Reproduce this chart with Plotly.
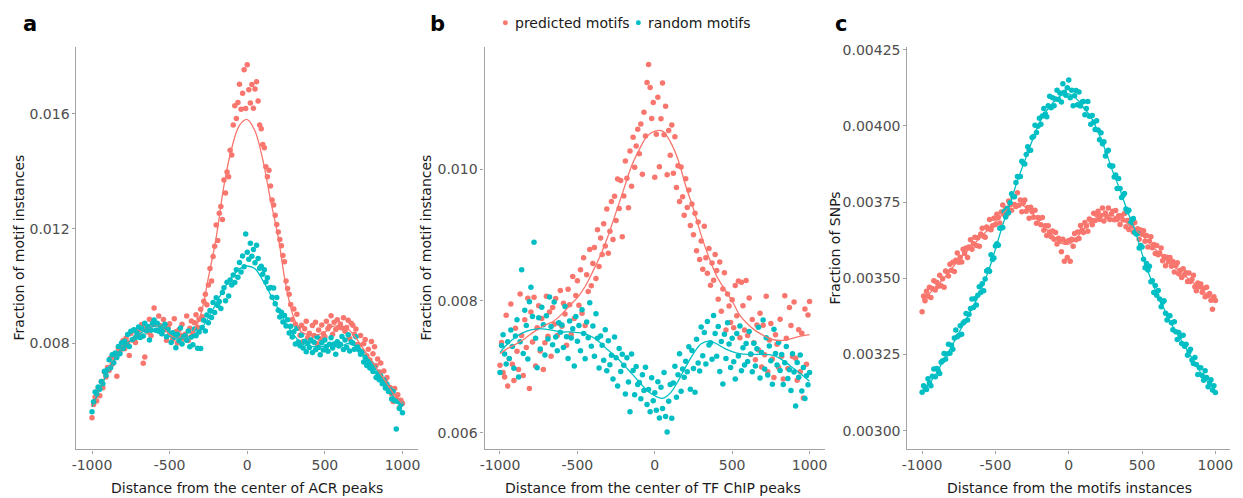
import plotly.graph_objects as go

# Bin centres (bp) and the positions where the smoothed trend is evaluated
positions = list(range(-1000, 1001, 10))
fit_positions = list(range(-1000, 1001, 50))

x_tick_vals = [-1000, -500, 0, 500, 1000]
x_tick_text = ["-1000", "-500", "0", "500", "1000"]

# ---- Panel a: distance from the centre of ACR peaks ----
acr_pred = [
    0.005412, 0.005873, 0.006136, 0.005995, 0.006441, 0.006182, 0.006675, 0.006461, 0.007007, 0.006830,
    0.007167, 0.007065, 0.007494, 0.007279, 0.007626, 0.007503, 0.006858, 0.007828, 0.007719, 0.007940,
    0.008109, 0.007814, 0.008194, 0.008033, 0.007586, 0.008347, 0.008121, 0.008455, 0.008038, 0.008281,
    0.008474, 0.008221, 0.008660, 0.007311, 0.007534, 0.008584, 0.008402, 0.008843, 0.008269, 0.008674,
    0.009237, 0.008692, 0.008466, 0.008955, 0.008627, 0.008347, 0.008839, 0.008477, 0.008114, 0.008563,
    0.008688, 0.008329, 0.008145, 0.008866, 0.008406, 0.008022, 0.008482, 0.008290, 0.008672, 0.008163,
    0.008320, 0.008959, 0.008108, 0.008535, 0.008783, 0.008370, 0.008726, 0.009001, 0.008563, 0.008842,
    0.009197, 0.008932, 0.009475, 0.009716, 0.009354, 0.010038, 0.010610, 0.010180, 0.011027, 0.011391,
    0.012125, 0.011586, 0.012537, 0.012768, 0.012318, 0.013693, 0.013244, 0.013974, 0.013803, 0.014731,
    0.014562, 0.015613, 0.016279, 0.015840, 0.016395, 0.017026, 0.016157, 0.016719, 0.017534, 0.016184,
    0.017706, 0.016839, 0.016372, 0.017022, 0.016189, 0.016865, 0.017114, 0.016445, 0.015608, 0.015476,
    0.014930, 0.014817, 0.014156, 0.013809, 0.014036, 0.013481, 0.012998, 0.012827, 0.012467, 0.012141,
    0.011885, 0.011624, 0.011403, 0.011061, 0.010847, 0.010173, 0.009912, 0.009720, 0.009358, 0.008835,
    0.009204, 0.008670, 0.009023, 0.008542, 0.008287, 0.008633, 0.008064, 0.008515, 0.008778, 0.008207,
    0.008360, 0.008111, 0.008628, 0.008283, 0.008738, 0.007996, 0.008475, 0.008169, 0.008646, 0.008338,
    0.008233, 0.008778, 0.008516, 0.008605, 0.008965, 0.008321, 0.008740, 0.008491, 0.008829, 0.008556,
    0.008682, 0.008537, 0.008894, 0.008426, 0.008559, 0.008814, 0.008175, 0.008703, 0.008632, 0.008319,
    0.008510, 0.007966, 0.007943, 0.008277, 0.007718, 0.007993, 0.008136, 0.007572, 0.007801, 0.007427,
    0.008071, 0.007645, 0.007886, 0.007231, 0.007462, 0.007008, 0.007322, 0.006755, 0.007039, 0.006697,
    0.006821, 0.006406, 0.006467, 0.006240, 0.005980, 0.006434, 0.006089, 0.006217, 0.005764, 0.006028,
    0.005913,
]
acr_rand = [
    0.005623, 0.005969, 0.006312, 0.006244, 0.006482, 0.006407, 0.006674, 0.006603, 0.007038, 0.006891,
    0.007086, 0.007436, 0.007158, 0.007605, 0.007327, 0.007667, 0.007516, 0.007893, 0.007641, 0.008019,
    0.007831, 0.008078, 0.007955, 0.008313, 0.007894, 0.008428, 0.008139, 0.008483, 0.008208, 0.008365,
    0.008573, 0.008214, 0.008533, 0.008260, 0.008702, 0.008446, 0.008589, 0.008124, 0.008462, 0.008709,
    0.008818, 0.008464, 0.008704, 0.008429, 0.008579, 0.008342, 0.008492, 0.008671, 0.008235, 0.008485,
    0.008306, 0.008037, 0.008376, 0.008215, 0.007857, 0.008326, 0.008097, 0.008544, 0.007981, 0.008232,
    0.008268, 0.008111, 0.008440, 0.007884, 0.008223, 0.007956, 0.008507, 0.008275, 0.007834, 0.008398,
    0.007827, 0.008561, 0.008813, 0.008436, 0.008990, 0.008721, 0.009153, 0.008904, 0.009430, 0.009077,
    0.009595, 0.009328, 0.009463, 0.009216, 0.009778, 0.009943, 0.009486, 0.010131, 0.009654, 0.010209,
    0.010038, 0.010388, 0.010125, 0.010566, 0.010307, 0.010819, 0.010492, 0.011045, 0.010673, 0.011814,
    0.011179, 0.010933, 0.011496, 0.011041, 0.011270, 0.010812, 0.011426, 0.010959, 0.010617, 0.010691,
    0.010415, 0.010572, 0.010139, 0.010294, 0.009924, 0.009955, 0.009610, 0.009935, 0.009382, 0.009603,
    0.009158, 0.008920, 0.009087, 0.008747, 0.008974, 0.008608, 0.008832, 0.008363, 0.008601, 0.008229,
    0.008411, 0.007981, 0.008536, 0.008056, 0.007922, 0.008297, 0.007840, 0.008076, 0.007717, 0.008006,
    0.007865, 0.008127, 0.007691, 0.008043, 0.007784, 0.008230, 0.007860, 0.007605, 0.008024, 0.007772,
    0.008119, 0.007893, 0.007734, 0.007977, 0.008202, 0.007841, 0.007985, 0.007628, 0.008061, 0.007912,
    0.007976, 0.008246, 0.007788, 0.008120, 0.007867, 0.008309, 0.007737, 0.008054, 0.008015, 0.007799,
    0.008233, 0.007883, 0.007771, 0.007625, 0.007708, 0.007358, 0.007518, 0.007239, 0.007389, 0.007144,
    0.007292, 0.007022, 0.007162, 0.006814, 0.006980, 0.006735, 0.006874, 0.006603, 0.006729, 0.006455,
    0.006583, 0.006331, 0.006396, 0.006064, 0.006326, 0.006011, 0.005027, 0.005978, 0.005740, 0.005887,
    0.005591,
]
acr_pred_fit = [
    0.0058, 0.0064, 0.0070, 0.0075, 0.0079, 0.0081, 0.0083, 0.0085, 0.0086, 0.0086,
    0.0083, 0.0082, 0.0082, 0.0084, 0.0090, 0.0103, 0.0117, 0.0135, 0.0148, 0.0156,
    0.0158,
    0.0154, 0.0144, 0.0130, 0.0117, 0.0100, 0.0089, 0.0084, 0.0083, 0.0083, 0.0084,
    0.0086, 0.0086, 0.0085, 0.0082, 0.0078, 0.0074, 0.0070, 0.0066, 0.0062, 0.0059,
]
acr_rand_fit = [
    0.0058, 0.0064, 0.0070, 0.0075, 0.0079, 0.0081, 0.0083, 0.0085, 0.0086, 0.0086,
    0.0084, 0.0082, 0.0082, 0.0083, 0.0085, 0.0089, 0.0094, 0.0099, 0.0103, 0.0106,
    0.0107,
    0.0106, 0.0102, 0.0097, 0.0092, 0.0087, 0.0083, 0.0080, 0.0079, 0.0079, 0.0079,
    0.0079, 0.0079, 0.0080, 0.0079, 0.0076, 0.0072, 0.0068, 0.0064, 0.0061, 0.0058,
]

# ---- Panel b: distance from the centre of TF ChIP peaks ----
chip_pred = [
    0.007023, 0.007369, 0.006912, 0.006844, 0.007782, 0.006707, 0.007124, 0.007953, 0.007038, 0.006791,
    0.007586, 0.007236, 0.006958, 0.008105, 0.007477, 0.006867, 0.007716, 0.007293, 0.008041, 0.006669,
    0.007831, 0.007378, 0.008055, 0.007013, 0.007594, 0.007928, 0.007239, 0.007733, 0.006958, 0.007365,
    0.008073, 0.007464, 0.007833, 0.007160, 0.007902, 0.007646, 0.008039, 0.007474, 0.007662, 0.008159,
    0.007618, 0.007964, 0.007804, 0.007329, 0.008179, 0.007942, 0.007492, 0.008371, 0.007735, 0.008085,
    0.008306, 0.007937, 0.008476, 0.007815, 0.008657, 0.007626, 0.008397, 0.008144, 0.008781, 0.008232,
    0.008568, 0.008811, 0.008340, 0.009084, 0.008523, 0.008956, 0.008707, 0.009175, 0.008834, 0.009398,
    0.008727, 0.009061, 0.009513, 0.008936, 0.009590, 0.009221, 0.009853, 0.009404, 0.009830, 0.008977,
    0.009595, 0.010128, 0.009863, 0.009416, 0.010278, 0.009743, 0.010486, 0.010031, 0.010354, 0.010609,
    0.010238, 0.010688, 0.009925, 0.010866, 0.010507, 0.011319, 0.011592, 0.011245, 0.010773, 0.011014,
    0.009879, 0.010533, 0.011096, 0.010041, 0.010770, 0.011312, 0.010526, 0.010959, 0.009917, 0.010591,
    0.010215, 0.010672, 0.009939, 0.010494, 0.009724, 0.010055, 0.009510, 0.010035, 0.009582, 0.009303,
    0.009858, 0.009420, 0.009687, 0.009147, 0.009474, 0.009008, 0.009332, 0.008763, 0.009201, 0.008629,
    0.008911, 0.008481, 0.009136, 0.008656, 0.008422, 0.008797, 0.008240, 0.008576, 0.008317, 0.008706,
    0.008465, 0.008027, 0.008591, 0.007843, 0.008184, 0.008430, 0.007560, 0.008105, 0.007924, 0.007672,
    0.008019, 0.007593, 0.008234, 0.007777, 0.008302, 0.007441, 0.008285, 0.007928, 0.007561, 0.008312,
    0.007476, 0.008046, 0.007188, 0.007720, 0.007367, 0.007109, 0.007637, 0.007254, 0.007815, 0.006999,
    0.007633, 0.007183, 0.008071, 0.006925, 0.007408, 0.007658, 0.007118, 0.006839, 0.007489, 0.007344,
    0.006992, 0.007722, 0.007162, 0.006814, 0.008080, 0.007435, 0.006974, 0.007903, 0.007629, 0.007155,
    0.007983, 0.007131, 0.006796, 0.007564, 0.006926, 0.007511, 0.006527, 0.007878, 0.007040, 0.007787,
    0.007991,
]
chip_rand = [
    0.006912, 0.007323, 0.007486, 0.007195, 0.007041, 0.007382, 0.007125, 0.007561, 0.007307, 0.006980,
    0.007467, 0.007715, 0.006844, 0.007379, 0.008476, 0.007203, 0.007858, 0.007628, 0.007119, 0.007990,
    0.008209, 0.007764, 0.008894, 0.007433, 0.006986, 0.007747, 0.007271, 0.007905, 0.007638, 0.007181,
    0.007774, 0.007421, 0.008060, 0.007611, 0.007334, 0.007984, 0.007452, 0.007243, 0.007669, 0.007524,
    0.007637, 0.007292, 0.007916, 0.007455, 0.007127, 0.007697, 0.007439, 0.007577, 0.007014, 0.007763,
    0.007388, 0.007629, 0.007245, 0.007866, 0.007506, 0.007122, 0.007682, 0.007440, 0.007972, 0.007313,
    0.007620, 0.007159, 0.007808, 0.007435, 0.006983, 0.007470, 0.007326, 0.007101, 0.007563, 0.006942,
    0.007397, 0.007032, 0.007175, 0.006816, 0.007454, 0.007138, 0.006710, 0.007280, 0.006927, 0.007191,
    0.007025, 0.006586, 0.007137, 0.006768, 0.006318, 0.007193, 0.006944, 0.006574, 0.007003, 0.006731,
    0.006762, 0.006513, 0.006879, 0.006640, 0.006995, 0.006426, 0.006657, 0.006319, 0.006834, 0.006484,
    0.006606, 0.006339, 0.006772, 0.006222, 0.006689, 0.006365, 0.006914, 0.006245, 0.006008, 0.006476,
    0.006730, 0.006217, 0.006756, 0.007009, 0.006536, 0.006881, 0.007198, 0.006627, 0.006967, 0.006841,
    0.007085, 0.006924, 0.007303, 0.006661, 0.007247, 0.006973, 0.006612, 0.007420, 0.007058, 0.006935,
    0.007604, 0.007170, 0.007523, 0.007042, 0.007687, 0.007333, 0.007364, 0.007115, 0.007778, 0.007507,
    0.007160, 0.007611, 0.006928, 0.007383, 0.006738, 0.007496, 0.007125, 0.007669, 0.007346, 0.006988,
    0.007433, 0.007078, 0.006816, 0.007505, 0.007165, 0.007621, 0.006940, 0.007291, 0.007029, 0.007356,
    0.007082, 0.007537, 0.007194, 0.006926, 0.007359, 0.007014, 0.007275, 0.007603, 0.006832, 0.007219,
    0.007710, 0.006966, 0.007443, 0.006877, 0.007318, 0.007093, 0.006736, 0.007572, 0.007201, 0.007027,
    0.007371, 0.006945, 0.007186, 0.006731, 0.007062, 0.007308, 0.006822, 0.006955, 0.006639, 0.007197,
    0.006921, 0.006406, 0.007067, 0.006840, 0.007180, 0.006634, 0.006989, 0.006517, 0.006864, 0.006728,
    0.006913,
]
chip_pred_fit = [
    0.00720, 0.00728, 0.00734, 0.00741, 0.00750, 0.00758, 0.00764, 0.00770, 0.00780, 0.00793,
    0.00805, 0.00822, 0.00845, 0.00870, 0.00900, 0.00935, 0.00970, 0.01005, 0.01030, 0.01050,
    0.01058,
    0.01058, 0.01042, 0.01015, 0.00975, 0.00940, 0.00900, 0.00866, 0.00838, 0.00818, 0.00800,
    0.00778, 0.00765, 0.00755, 0.00748, 0.00742, 0.00740, 0.00741, 0.00744, 0.00747, 0.00749,
]
chip_rand_fit = [
    0.00722, 0.00735, 0.00745, 0.00752, 0.00756, 0.00758, 0.00757, 0.00755, 0.00753, 0.00753,
    0.00752, 0.00750, 0.00745, 0.00736, 0.00725, 0.00715, 0.00703, 0.00690, 0.00677, 0.00664,
    0.00656,
    0.00652, 0.00660, 0.00678, 0.00700, 0.00720, 0.00735, 0.00739, 0.00735, 0.00728, 0.00723,
    0.00720, 0.00719, 0.00719, 0.00719, 0.00718, 0.00714, 0.00706, 0.00697, 0.00688, 0.00678,
]

# ---- Panel c: distance from the motif instances (SNP density) ----
snp_pred = [
    0.003390, 0.003442, 0.003426, 0.003457, 0.003441, 0.003470, 0.003437, 0.003466, 0.003492, 0.003461,
    0.003487, 0.003474, 0.003510, 0.003475, 0.003498, 0.003470, 0.003524, 0.003521, 0.003507, 0.003546,
    0.003526, 0.003552, 0.003522, 0.003559, 0.003583, 0.003552, 0.003569, 0.003553, 0.003595, 0.003581,
    0.003599, 0.003568, 0.003602, 0.003626, 0.003595, 0.003613, 0.003634, 0.003607, 0.003633, 0.003605,
    0.003645, 0.003664, 0.003638, 0.003634, 0.003668, 0.003662, 0.003693, 0.003659, 0.003672, 0.003697,
    0.003676, 0.003710, 0.003699, 0.003681, 0.003717, 0.003740, 0.003709, 0.003729, 0.003710, 0.003753,
    0.003741, 0.003723, 0.003767, 0.003742, 0.003735, 0.003780, 0.003739, 0.003757, 0.003718, 0.003747,
    0.003757, 0.003720, 0.003732, 0.003697, 0.003733, 0.003718, 0.003700, 0.003723, 0.003680, 0.003699,
    0.003696, 0.003675, 0.003699, 0.003657, 0.003672, 0.003640, 0.003672, 0.003652, 0.003636, 0.003655,
    0.003628, 0.003650, 0.003612, 0.003631, 0.003622, 0.003587, 0.003628, 0.003556, 0.003619, 0.003568,
    0.003624, 0.003556, 0.003628, 0.003605, 0.003647, 0.003626, 0.003652, 0.003630, 0.003673, 0.003657,
    0.003650, 0.003683, 0.003671, 0.003654, 0.003694, 0.003691, 0.003675, 0.003713, 0.003689, 0.003708,
    0.003720, 0.003693, 0.003706, 0.003730, 0.003688, 0.003714, 0.003702, 0.003730, 0.003693, 0.003711,
    0.003720, 0.003692, 0.003722, 0.003693, 0.003705, 0.003676, 0.003705, 0.003691, 0.003712, 0.003669,
    0.003689, 0.003660, 0.003690, 0.003671, 0.003652, 0.003683, 0.003649, 0.003662, 0.003628, 0.003658,
    0.003644, 0.003656, 0.003621, 0.003640, 0.003602, 0.003622, 0.003636, 0.003600, 0.003611, 0.003581,
    0.003607, 0.003577, 0.003583, 0.003599, 0.003557, 0.003571, 0.003541, 0.003569, 0.003554, 0.003568,
    0.003539, 0.003555, 0.003520, 0.003542, 0.003551, 0.003515, 0.003526, 0.003502, 0.003531, 0.003511,
    0.003518, 0.003489, 0.003517, 0.003489, 0.003496, 0.003510, 0.003472, 0.003459, 0.003484, 0.003472,
    0.003481, 0.003454, 0.003467, 0.003439, 0.003470, 0.003443, 0.003450, 0.003428, 0.003398, 0.003439,
    0.003427,
]
snp_rand = [
    0.003126, 0.003147, 0.003143, 0.003135, 0.003170, 0.003156, 0.003147, 0.003178, 0.003202, 0.003177,
    0.003204, 0.003197, 0.003187, 0.003224, 0.003229, 0.003253, 0.003234, 0.003251, 0.003283, 0.003254,
    0.003280, 0.003267, 0.003304, 0.003330, 0.003308, 0.003312, 0.003344, 0.003316, 0.003353, 0.003358,
    0.003384, 0.003363, 0.003382, 0.003401, 0.003432, 0.003404, 0.003433, 0.003412, 0.003444, 0.003472,
    0.003453, 0.003482, 0.003459, 0.003497, 0.003524, 0.003528, 0.003523, 0.003577, 0.003561, 0.003566,
    0.003606, 0.003613, 0.003608, 0.003664, 0.003665, 0.003666, 0.003719, 0.003701, 0.003729, 0.003715,
    0.003748, 0.003777, 0.003768, 0.003767, 0.003814, 0.003834, 0.003833, 0.003834, 0.003884, 0.003877,
    0.003875, 0.003906, 0.003931, 0.003919, 0.003920, 0.003962, 0.003965, 0.004002, 0.003978, 0.003999,
    0.004025, 0.004005, 0.004032, 0.004057, 0.004039, 0.004030, 0.004066, 0.004097, 0.004059, 0.004092,
    0.004066, 0.004088, 0.004117, 0.004086, 0.004108, 0.004078, 0.004138, 0.004110, 0.004100, 0.004125,
    0.004150, 0.004092, 0.004117, 0.004066, 0.004099, 0.004116, 0.004069, 0.004111, 0.004065, 0.004078,
    0.004080, 0.004036, 0.004057, 0.004080, 0.004031, 0.004005, 0.004034, 0.004012, 0.003988, 0.004017,
    0.003986, 0.003954, 0.003977, 0.003941, 0.003948, 0.003901, 0.003916, 0.003920, 0.003870, 0.003867,
    0.003868, 0.003832, 0.003839, 0.003794, 0.003827, 0.003794, 0.003765, 0.003771, 0.003778, 0.003727,
    0.003718, 0.003723, 0.003680, 0.003691, 0.003696, 0.003651, 0.003645, 0.003647, 0.003599, 0.003607,
    0.003602, 0.003562, 0.003534, 0.003548, 0.003527, 0.003539, 0.003488, 0.003492, 0.003453, 0.003476,
    0.003444, 0.003460, 0.003432, 0.003406, 0.003421, 0.003426, 0.003385, 0.003363, 0.003378, 0.003377,
    0.003354, 0.003331, 0.003357, 0.003324, 0.003299, 0.003322, 0.003309, 0.003286, 0.003313, 0.003277,
    0.003283, 0.003247, 0.003259, 0.003267, 0.003232, 0.003220, 0.003240, 0.003217, 0.003184, 0.003207,
    0.003206, 0.003181, 0.003165, 0.003196, 0.003174, 0.003144, 0.003156, 0.003167, 0.003133, 0.003147,
    0.003125,
]
snp_pred_fit = [
    0.003430, 0.003450, 0.003475, 0.003500, 0.003530, 0.003560, 0.003585, 0.003610, 0.003635, 0.003660,
    0.003685, 0.003710, 0.003735, 0.003745, 0.003735, 0.003715, 0.003685, 0.003660, 0.003635, 0.003615,
    0.003612,
    0.003630, 0.003660, 0.003685, 0.003700, 0.003705, 0.003705, 0.003695, 0.003680, 0.003660, 0.003640,
    0.003615, 0.003590, 0.003565, 0.003545, 0.003525, 0.003505, 0.003485, 0.003465, 0.003445, 0.003430,
]
snp_rand_fit = [
    0.003130, 0.003155, 0.003190, 0.003235, 0.003275, 0.003320, 0.003365, 0.003410, 0.003460, 0.003520,
    0.003595, 0.003675, 0.003745, 0.003820, 0.003885, 0.003950, 0.004010, 0.004050, 0.004080, 0.004100,
    0.004105,
    0.004090, 0.004060, 0.004030, 0.003980, 0.003920, 0.003850, 0.003790, 0.003720, 0.003660, 0.003580,
    0.003510, 0.003450, 0.003400, 0.003350, 0.003310, 0.003270, 0.003230, 0.003190, 0.003160, 0.003130,
]

acr_y_ticks = [0.008, 0.012, 0.016]
acr_y_text = ["0.008", "0.012", "0.016"]
chip_y_ticks = [0.006, 0.008, 0.010]
chip_y_text = ["0.006", "0.008", "0.010"]
snp_y_ticks = [0.00300, 0.00325, 0.00350, 0.00375, 0.00400, 0.00425]
snp_y_text = ["0.00300", "0.00325", "0.00350", "0.00375", "0.00400", "0.00425"]

series_names = ["predicted motifs", "random motifs"]

RED = "#F8766D"
CYAN = "#00BFC4"
FONT = "DejaVu Sans"
W, H = 1243, 498


def px_x(p):
    return p / W


def px_y(p):
    return 1 - p / H


panels = [
    dict(ax="", pred=acr_pred, rand=acr_rand, pfit=acr_pred_fit, rfit=acr_rand_fit,
         xdom=[71, 415], yr=[0.00431, 0.01834], yt=acr_y_ticks, ytt=acr_y_text,
         xtitle="Distance from the center of ACR peaks", xt_x=243,
         ytitle="Fraction of motif instances", yt_x=13, letter="a", letter_x=24),
    dict(ax="2", pred=chip_pred, rand=chip_rand, pfit=chip_pred_fit, rfit=chip_rand_fit,
         xdom=[482, 825], yr=[0.005744, 0.011865], yt=chip_y_ticks, ytt=chip_y_text,
         xtitle="Distance from the center of TF ChIP peaks", xt_x=652,
         ytitle="Fraction of motif instances", yt_x=423, letter="b", letter_x=435),
    dict(ax="3", pred=snp_pred, rand=snp_rand, pfit=snp_pred_fit, rfit=snp_rand_fit,
         xdom=[908, 1233], yr=[0.002938, 0.004260], yt=snp_y_ticks, ytt=snp_y_text,
         xtitle="Distance from the motifs instances", xt_x=1071,
         ytitle="Fraction of SNPs", yt_x=835, letter="c", letter_x=841),
]

fig = go.Figure()
layout = dict(
    width=W, height=H,
    margin=dict(l=0, r=0, t=0, b=0),
    paper_bgcolor="white", plot_bgcolor="white",
    showlegend=False,
    font=dict(family=FONT, size=14, color="#1a1a1a"),
)

axis_style = dict(
    showline=True, linecolor="#a3a3a3", linewidth=1.2,
    ticks="outside", ticklen=3, tickwidth=1.1, tickcolor="#a3a3a3",
    showgrid=False, zeroline=False,
    tickfont=dict(family=FONT, size=14, color="#4d4d4d"),
)

annotations = []
y_domain = [px_y(449), px_y(42)]

for p in panels:
    xa, ya = "x" + p["ax"], "y" + p["ax"]
    for vals, col, name in ((p["pred"], RED, series_names[0]), (p["rand"], CYAN, series_names[1])):
        fig.add_trace(go.Scatter(
            x=positions, y=vals, mode="markers", name=name,
            marker=dict(color=col, size=5.5, line=dict(width=0)),
            xaxis=xa, yaxis=ya, hoverinfo="skip"))
    for vals, col, name in ((p["pfit"], RED, series_names[0]), (p["rfit"], CYAN, series_names[1])):
        fig.add_trace(go.Scatter(
            x=fit_positions, y=vals, mode="lines", name=name,
            line=dict(color=col, width=1.3, shape="spline", smoothing=1.0),
            xaxis=xa, yaxis=ya, hoverinfo="skip"))

    layout["xaxis" + p["ax"]] = dict(
        axis_style, domain=[px_x(p["xdom"][0]), px_x(p["xdom"][1])],
        range=[-1100, 1100], tickvals=x_tick_vals, ticktext=x_tick_text,
        anchor=ya)
    layout["yaxis" + p["ax"]] = dict(
        axis_style, domain=y_domain, range=p["yr"],
        tickvals=p["yt"], ticktext=p["ytt"], anchor=xa)

    annotations.append(dict(
        text=p["xtitle"], x=px_x(p["xt_x"]), y=px_y(488), xref="paper", yref="paper",
        showarrow=False, xanchor="center", yanchor="middle",
        font=dict(family=FONT, size=14, color="#1a1a1a")))
    annotations.append(dict(
        text=p["ytitle"], x=px_x(p["yt_x"]), y=px_y(245), xref="paper", yref="paper",
        showarrow=False, xanchor="center", yanchor="middle", textangle=-90,
        font=dict(family=FONT, size=14, color="#1a1a1a")))
    annotations.append(dict(
        text="<b>%s</b>" % p["letter"], x=px_x(p["letter_x"]), y=px_y(19),
        xref="paper", yref="paper", showarrow=False, xanchor="center", yanchor="middle",
        font=dict(family=FONT, size=21, color="black")))

# Legend across the top of the middle panel
legend_items = [(series_names[0], RED, 503), (series_names[1], CYAN, 637)]
shapes = []
for name, col, cx in legend_items:
    shapes.append(dict(
        type="circle", xref="paper", yref="paper",
        x0=px_x(cx - 2.5), x1=px_x(cx + 2.5), y0=px_y(18 + 2.5), y1=px_y(18 - 2.5),
        fillcolor=col, line=dict(width=0)))
    annotations.append(dict(
        text=name, x=px_x(cx + 8), y=px_y(18), xref="paper", yref="paper",
        showarrow=False, xanchor="left", yanchor="middle",
        font=dict(family=FONT, size=14, color="#1a1a1a")))

layout["annotations"] = annotations
layout["shapes"] = shapes
fig.update_layout(**layout)

fig.write_html("out.html")
